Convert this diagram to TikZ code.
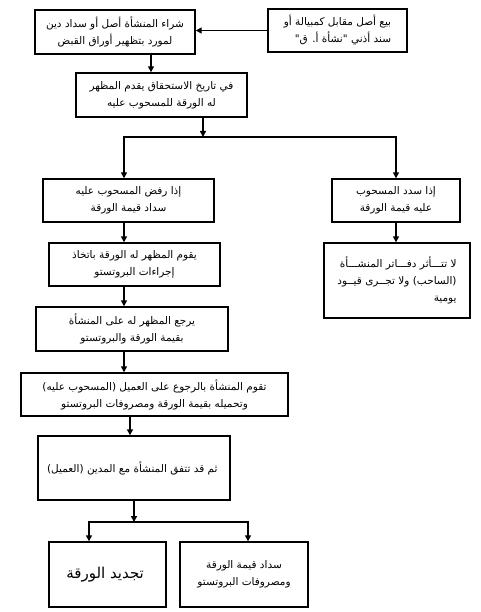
\documentclass[tikz,border=0pt]{standalone}
\usepackage{fontspec}
\newfontfamily\arabicfont[Script=Arabic]{DejaVu Sans}
\TeXXeTstate=1
\usetikzlibrary{arrows.meta, positioning, calc}
\newcommand{\artext}[1]{\beginR #1\endR}

\begin{document}
\begin{tikzpicture}[x=1pt, y=-1pt,
  flowbox/.style={draw, line width=1.4pt, align=center, inner sep=2pt, font=\arabicfont\fontsize{10.5}{17}\selectfont},
  arr/.style={line width=1.4pt, -{Triangle[length=6pt, width=6pt]}}
]
  \useasboundingbox (0,0) rectangle (480,612);
  % top row
  \node[flowbox, minimum width=160pt, minimum height=44pt] (buy) at (115,32) {
    \artext{شراء المنشأة أصل أو سداد دين}\\
    \artext{لمورد بتظهير أوراق القبض}
  };
  \node[flowbox, minimum width=139pt, minimum height=43pt, align=right] (sell) at (337.5,30.5) {
    \artext{بيع أصل مقابل كمبيالة أو}\\
    \artext{سند أذني  "نشأة أ. ق"}
  };
  \node[flowbox, minimum width=171pt, minimum height=44pt] (due) at (161.5,95) {
    \artext{في تاريخ الاستحقاق يقدم المظهر}\\
    \artext{له الورقة للمسحوب عليه}
  };
  % the two branches
  \node[flowbox, minimum width=171pt, minimum height=43pt] (refuse) at (128.5,200.5) {
    \artext{إذا  رفض المسحوب عليه}\\
    \artext{سداد قيمة الورقة}
  };
  \node[flowbox, minimum width=128pt, minimum height=43pt] (pay) at (396,200.5) {
    \artext{إذا سدد المسحوب}\\
    \artext{عليه قيمة الورقة}
  };
  \node[flowbox, minimum width=171pt, minimum height=43pt] (protest) at (134.5,264.5) {
    \artext{يقوم المظهر له الورقة باتخاذ}\\
    \artext{إجراءات البروتستو}
  };
  \node[flowbox, minimum width=146pt, minimum height=75pt, align=right] (noentry) at (397,280.5) {
    \artext{لا تتـــأثر دفـــاتر المنشـــأة}\\
    \artext{(الساحب) ولا تجــرى قيــود}\\
    \artext{يومية}
  };
  \node[flowbox, minimum width=192pt, minimum height=44pt] (recourse) at (132,329) {
    \artext{يرجع المظهر له على المنشأة}\\
    \artext{بقيمة الورقة والبروتستو}
  };
  \node[flowbox, minimum width=267pt, minimum height=43pt] (charge) at (154.5,394.5) {
    \artext{تقوم المنشأة بالرجوع على العميل (المسحوب عليه)}\\
    \artext{وتحميله بقيمة الورقة ومصروفات البروتستو}
  };
  \node[flowbox, minimum width=192pt, minimum height=64pt] (agree) at (134,468) {
    \artext{ثم قد تتفق المنشأة مع المدين (العميل)}
  };
  % last row
  \node[flowbox, minimum width=117pt, minimum height=65pt, font=\arabicfont\fontsize{15}{17}\selectfont] (renew) at (107.5,574.5) {
    \artext{تجديد الورقة}
  };
  \node[flowbox, minimum width=128pt, minimum height=65pt] (settle) at (244,574.5) {
    \artext{سداد قيمة الورقة}\\
    \artext{ومصروفات البروتستو}
  };

  % connectors
  \coordinate (ax) at (151,0);
  \coordinate (lx) at (124,0);
  \coordinate (mx) at (130,0);
  \coordinate (kx) at (89,0);
  \coordinate (sx) at (248,0);
  \coordinate (fork) at (203,137);
  \coordinate (fork2) at (134,522);
  \draw[arr] (sell.west) -- (sell.west -| buy.east);
  \draw[arr] (buy.south -| ax) -- (due.north -| ax);
  \draw[arr] (due.south -| fork) -- (fork);
  \draw[arr] (fork) -| (refuse.north -| lx);
  \draw[arr] (fork) -| (pay.north);
  \draw[arr] (refuse.south -| lx) -- (protest.north -| lx);
  \draw[arr] (protest.south -| lx) -- (recourse.north -| lx);
  \draw[arr] (recourse.south -| lx) -- (charge.north -| lx);
  \draw[arr] (pay.south) -- (noentry.north -| pay.south);
  \draw[arr] (charge.south -| mx) -- (agree.north -| mx);
  \draw[arr] (agree.south -| fork2) -- (fork2);
  \draw[arr] (fork2) -| (renew.north -| kx);
  \draw[arr] (fork2) -| (settle.north -| sx);
\end{tikzpicture}
\end{document}
